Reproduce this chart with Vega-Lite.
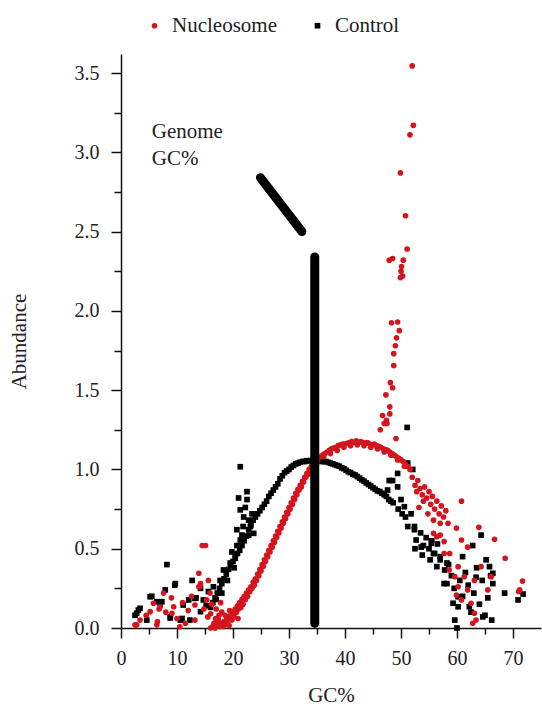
{
  "$schema": "https://vega.github.io/schema/vega-lite/v6.json",
  "width": 420,
  "height": 574,
  "autosize": {"type": "none"},
  "padding": {"left": 121, "top": 54, "right": 1, "bottom": 81},
  "config": {
    "view": {"stroke": null},
    "axis": {"grid": false, "domainColor": "#111", "domainWidth": 1.5, "tickColor": "#111", "tickWidth": 1.5, "labelFont": "Liberation Serif", "labelFontSize": 20, "labelColor": "#222", "titleFont": "Liberation Serif", "titleFontSize": 21, "titleFontWeight": "normal", "titleColor": "#222"}
  },
  "encoding": {
    "x": {"field": "x", "type": "quantitative", "scale": {"domain": [0, 75], "nice": false, "zero": false},
      "axis": {"title": "GC%", "values": [0,5,10,15,20,25,30,35,40,45,50,55,60,65,70], "format": "d", "labelExpr": "datum.value % 10 === 0 ? datum.label : ''", "tickSize": {"condition": {"test": "datum.value % 10 === 0", "value": 10}, "value": 6}, "labelPadding": 10, "titlePadding": 16, "labelFlush": false}},
    "y": {"field": "y", "type": "quantitative", "scale": {"domain": [0, 3.62], "nice": false},
      "axis": {"title": "Abundance", "values": [0,0.25,0.5,0.75,1,1.25,1.5,1.75,2,2.25,2.5,2.75,3,3.25,3.5], "format": ".1f", "labelExpr": "datum.value % 0.5 === 0 ? datum.label : ''", "tickSize": {"condition": {"test": "datum.value % 0.5 === 0", "value": 10}, "value": 7}, "labelPadding": 12, "titlePadding": 45, "labelFlush": false}}
  },
  "layer": [
    {
      "data": {"values": [
        {"s":"Control","x":16.0,"y":0.13},{"s":"Control","x":16.4,"y":0.16},{"s":"Control","x":16.8,"y":0.19},{"s":"Control","x":17.2,"y":0.22},{"s":"Control","x":17.6,"y":0.25},{"s":"Control","x":18.0,"y":0.28},{"s":"Control","x":18.4,"y":0.31},{"s":"Control","x":18.8,"y":0.34},{"s":"Control","x":19.2,"y":0.37},{"s":"Control","x":19.6,"y":0.40},{"s":"Control","x":20.0,"y":0.42},{"s":"Control","x":20.4,"y":0.44},{"s":"Control","x":20.8,"y":0.47},{"s":"Control","x":21.2,"y":0.49},{"s":"Control","x":21.6,"y":0.52},{"s":"Control","x":22.0,"y":0.55},{"s":"Control","x":22.4,"y":0.58},{"s":"Control","x":22.8,"y":0.62},{"s":"Control","x":23.2,"y":0.65},{"s":"Control","x":23.6,"y":0.68},{"s":"Control","x":24.0,"y":0.70},{"s":"Control","x":24.4,"y":0.72},{"s":"Control","x":24.8,"y":0.74},{"s":"Control","x":25.2,"y":0.76},{"s":"Control","x":25.6,"y":0.78},{"s":"Control","x":26.0,"y":0.80},{"s":"Control","x":26.4,"y":0.83},{"s":"Control","x":26.8,"y":0.85},{"s":"Control","x":27.2,"y":0.87},{"s":"Control","x":27.6,"y":0.89},{"s":"Control","x":28.0,"y":0.91},{"s":"Control","x":28.4,"y":0.94},{"s":"Control","x":28.8,"y":0.96},{"s":"Control","x":29.2,"y":0.98},{"s":"Control","x":29.6,"y":0.99},{"s":"Control","x":30.0,"y":1.00},{"s":"Control","x":30.4,"y":1.015},{"s":"Control","x":30.8,"y":1.025},{"s":"Control","x":31.2,"y":1.035},{"s":"Control","x":31.6,"y":1.04},{"s":"Control","x":32.0,"y":1.045},{"s":"Control","x":32.4,"y":1.05},{"s":"Control","x":32.8,"y":1.05},{"s":"Control","x":33.2,"y":1.055},{"s":"Control","x":33.6,"y":1.055},{"s":"Control","x":34.0,"y":1.055},{"s":"Control","x":35.0,"y":1.055},{"s":"Control","x":35.4,"y":1.055},{"s":"Control","x":35.8,"y":1.05},{"s":"Control","x":36.2,"y":1.05},{"s":"Control","x":36.6,"y":1.05},{"s":"Control","x":37.0,"y":1.045},{"s":"Control","x":37.4,"y":1.04},{"s":"Control","x":37.8,"y":1.035},{"s":"Control","x":38.2,"y":1.03},{"s":"Control","x":38.6,"y":1.025},{"s":"Control","x":39.0,"y":1.02},{"s":"Control","x":39.4,"y":1.01},{"s":"Control","x":39.8,"y":1.005},{"s":"Control","x":40.2,"y":0.995},{"s":"Control","x":40.6,"y":0.985},{"s":"Control","x":41.0,"y":0.98},{"s":"Control","x":41.4,"y":0.97},{"s":"Control","x":41.8,"y":0.965},{"s":"Control","x":42.2,"y":0.955},{"s":"Control","x":42.6,"y":0.945},{"s":"Control","x":43.0,"y":0.935},{"s":"Control","x":43.4,"y":0.925},{"s":"Control","x":43.8,"y":0.915},{"s":"Control","x":44.2,"y":0.905},{"s":"Control","x":44.6,"y":0.895},{"s":"Control","x":45.0,"y":0.885},{"s":"Control","x":45.4,"y":0.875},{"s":"Control","x":45.8,"y":0.865},{"s":"Control","x":46.2,"y":0.86},{"s":"Control","x":46.6,"y":0.85},{"s":"Control","x":47.0,"y":0.84},{"s":"Control","x":47.4,"y":0.83},{"s":"Control","x":47.8,"y":0.81},{"s":"Control","x":48.2,"y":0.80},{"s":"Control","x":48.6,"y":0.79},
        {"s":"Control","x":21.3,"y":1.017},{"s":"Control","x":22.5,"y":0.86},{"s":"Control","x":21.0,"y":0.82},{"s":"Control","x":22.2,"y":0.76},{"s":"Control","x":21.9,"y":0.70},{"s":"Control","x":20.7,"y":0.62},{"s":"Control","x":22.8,"y":0.585},{"s":"Control","x":21.3,"y":0.555},{"s":"Control","x":23.7,"y":0.597},{"s":"Control","x":20.4,"y":0.46},{"s":"Control","x":19.5,"y":0.41},{"s":"Control","x":8.2,"y":0.40},{"s":"Control","x":12.7,"y":0.30},{"s":"Control","x":9.7,"y":0.28},{"s":"Control","x":14.2,"y":0.25},{"s":"Control","x":5.5,"y":0.20},{"s":"Control","x":7.3,"y":0.166},{"s":"Control","x":3.1,"y":0.113},{"s":"Control","x":2.5,"y":0.08},{"s":"Control","x":10.6,"y":0.05},{"s":"Control","x":12.1,"y":0.177},{"s":"Control","x":13.4,"y":0.19},{"s":"Control","x":14.7,"y":0.177},{"s":"Control","x":6.4,"y":0.166},{"s":"Control","x":10.9,"y":0.06},{"s":"Control","x":8.8,"y":0.063},{"s":"Control","x":14.2,"y":0.103},{"s":"Control","x":18.3,"y":0.366},{"s":"Control","x":17.7,"y":0.30},{"s":"Control","x":16.5,"y":0.26},{"s":"Control","x":19.8,"y":0.48},{"s":"Control","x":20.7,"y":0.52},{"s":"Control","x":21.6,"y":0.586},{"s":"Control","x":23.1,"y":0.64},{"s":"Control","x":22.8,"y":0.68},{"s":"Control","x":21.3,"y":0.745},{"s":"Control","x":22.5,"y":0.81},{"s":"Control","x":2.8,"y":0.093},{"s":"Control","x":3.4,"y":0.124},{"s":"Control","x":5.2,"y":0.197},{"s":"Control","x":7.0,"y":0.156},{"s":"Control","x":7.9,"y":0.24},{"s":"Control","x":9.6,"y":0.27},{"s":"Control","x":11.1,"y":0.145},{"s":"Control","x":13.2,"y":0.187},{"s":"Control","x":15.6,"y":0.23},{"s":"Control","x":4.6,"y":0.05},{"s":"Control","x":8.8,"y":0.07},{"s":"Control","x":12.3,"y":0.05},{"s":"Control","x":15.2,"y":0.14},{"s":"Control","x":17.0,"y":0.18},{"s":"Control","x":18.0,"y":0.22},{"s":"Control","x":19.0,"y":0.30},{"s":"Control","x":20.2,"y":0.38},{"s":"Control","x":23.4,"y":0.72},{"s":"Control","x":21.8,"y":0.64},
        {"s":"Control","x":51.1,"y":1.265},{"s":"Control","x":51.2,"y":1.04},{"s":"Control","x":52.1,"y":1.0},{"s":"Control","x":49.4,"y":0.975},{"s":"Control","x":47.9,"y":0.93},{"s":"Control","x":49.4,"y":0.89},{"s":"Control","x":48.5,"y":0.93},{"s":"Control","x":47.6,"y":0.87},{"s":"Control","x":50.0,"y":0.81},{"s":"Control","x":50.6,"y":0.765},{"s":"Control","x":51.8,"y":0.72},{"s":"Control","x":49.5,"y":0.75},{"s":"Control","x":50.2,"y":0.72},{"s":"Control","x":50.8,"y":0.70},{"s":"Control","x":51.2,"y":0.64},{"s":"Control","x":52.4,"y":0.64},{"s":"Control","x":52.4,"y":0.62},{"s":"Control","x":52.7,"y":0.555},{"s":"Control","x":53.5,"y":0.60},{"s":"Control","x":53.6,"y":0.51},{"s":"Control","x":54.0,"y":0.52},{"s":"Control","x":54.5,"y":0.57},{"s":"Control","x":55.0,"y":0.50},{"s":"Control","x":55.4,"y":0.534},{"s":"Control","x":55.5,"y":0.55},{"s":"Control","x":55.8,"y":0.47},{"s":"Control","x":56.0,"y":0.47},{"s":"Control","x":56.5,"y":0.53},{"s":"Control","x":57.0,"y":0.45},{"s":"Control","x":57.0,"y":0.43},{"s":"Control","x":52.5,"y":0.50},{"s":"Control","x":53.8,"y":0.46},{"s":"Control","x":55.2,"y":0.43},{"s":"Control","x":56.4,"y":0.387},{"s":"Control","x":58.2,"y":0.41},{"s":"Control","x":57.8,"y":0.366},{"s":"Control","x":58.5,"y":0.40},{"s":"Control","x":59.0,"y":0.33},{"s":"Control","x":57.7,"y":0.28},{"s":"Control","x":58.2,"y":0.28},{"s":"Control","x":59.5,"y":0.25},{"s":"Control","x":60.2,"y":0.197},{"s":"Control","x":59.3,"y":0.156},{"s":"Control","x":60.2,"y":0.134},{"s":"Control","x":60.5,"y":0.30},{"s":"Control","x":61.0,"y":0.20},{"s":"Control","x":61.0,"y":0.45},{"s":"Control","x":61.5,"y":0.35},{"s":"Control","x":62.0,"y":0.27},{"s":"Control","x":62.2,"y":0.134},{"s":"Control","x":62.5,"y":0.10},{"s":"Control","x":62.8,"y":0.52},{"s":"Control","x":63.0,"y":0.22},{"s":"Control","x":63.4,"y":0.32},{"s":"Control","x":63.5,"y":0.38},{"s":"Control","x":64.0,"y":0.15},{"s":"Control","x":64.3,"y":0.586},{"s":"Control","x":64.5,"y":0.30},{"s":"Control","x":64.6,"y":0.07},{"s":"Control","x":65.0,"y":0.08},{"s":"Control","x":65.2,"y":0.43},{"s":"Control","x":65.5,"y":0.19},{"s":"Control","x":65.8,"y":0.387},{"s":"Control","x":66.0,"y":0.33},{"s":"Control","x":66.2,"y":0.05},{"s":"Control","x":66.4,"y":0.345},{"s":"Control","x":66.4,"y":0.28},{"s":"Control","x":60.0,"y":0.0},{"s":"Control","x":59.6,"y":0.05},{"s":"Control","x":68.5,"y":0.22},{"s":"Control","x":70.9,"y":0.177},{"s":"Control","x":71.8,"y":0.214},
        {"s":"Nucleosome","x":16.0,"y":0.00},{"s":"Nucleosome","x":16.4,"y":0.01},{"s":"Nucleosome","x":16.8,"y":0.00},{"s":"Nucleosome","x":17.2,"y":0.02},{"s":"Nucleosome","x":17.6,"y":0.01},{"s":"Nucleosome","x":18.0,"y":0.03},{"s":"Nucleosome","x":18.4,"y":0.04},{"s":"Nucleosome","x":18.8,"y":0.05},{"s":"Nucleosome","x":19.2,"y":0.07},{"s":"Nucleosome","x":19.6,"y":0.08},{"s":"Nucleosome","x":20.0,"y":0.10},{"s":"Nucleosome","x":20.4,"y":0.12},{"s":"Nucleosome","x":20.8,"y":0.14},{"s":"Nucleosome","x":21.2,"y":0.16},{"s":"Nucleosome","x":21.6,"y":0.18},{"s":"Nucleosome","x":22.0,"y":0.20},{"s":"Nucleosome","x":22.4,"y":0.22},{"s":"Nucleosome","x":22.8,"y":0.24},{"s":"Nucleosome","x":23.2,"y":0.26},{"s":"Nucleosome","x":23.6,"y":0.29},{"s":"Nucleosome","x":24.0,"y":0.31},{"s":"Nucleosome","x":24.4,"y":0.34},{"s":"Nucleosome","x":24.8,"y":0.37},{"s":"Nucleosome","x":25.2,"y":0.40},{"s":"Nucleosome","x":25.6,"y":0.43},{"s":"Nucleosome","x":26.0,"y":0.46},{"s":"Nucleosome","x":26.4,"y":0.49},{"s":"Nucleosome","x":26.8,"y":0.52},{"s":"Nucleosome","x":27.2,"y":0.55},{"s":"Nucleosome","x":27.6,"y":0.58},{"s":"Nucleosome","x":28.0,"y":0.61},{"s":"Nucleosome","x":28.4,"y":0.64},{"s":"Nucleosome","x":28.8,"y":0.67},{"s":"Nucleosome","x":29.2,"y":0.70},{"s":"Nucleosome","x":29.6,"y":0.73},{"s":"Nucleosome","x":30.0,"y":0.76},{"s":"Nucleosome","x":30.4,"y":0.79},{"s":"Nucleosome","x":30.8,"y":0.82},{"s":"Nucleosome","x":31.2,"y":0.85},{"s":"Nucleosome","x":31.6,"y":0.875},{"s":"Nucleosome","x":32.0,"y":0.90},{"s":"Nucleosome","x":32.4,"y":0.925},{"s":"Nucleosome","x":32.8,"y":0.95},{"s":"Nucleosome","x":33.2,"y":0.975},{"s":"Nucleosome","x":33.6,"y":1.00},{"s":"Nucleosome","x":34.0,"y":1.02},{"s":"Nucleosome","x":34.4,"y":1.04},{"s":"Nucleosome","x":34.8,"y":1.055},{"s":"Nucleosome","x":35.2,"y":1.07},{"s":"Nucleosome","x":35.6,"y":1.08},{"s":"Nucleosome","x":36.0,"y":1.09},{"s":"Nucleosome","x":36.4,"y":1.10},{"s":"Nucleosome","x":36.8,"y":1.11},{"s":"Nucleosome","x":37.2,"y":1.12},{"s":"Nucleosome","x":37.6,"y":1.13},{"s":"Nucleosome","x":38.0,"y":1.135},{"s":"Nucleosome","x":38.4,"y":1.14},{"s":"Nucleosome","x":38.8,"y":1.15},{"s":"Nucleosome","x":39.2,"y":1.155},{"s":"Nucleosome","x":39.6,"y":1.16},{"s":"Nucleosome","x":40.0,"y":1.16},{"s":"Nucleosome","x":40.4,"y":1.165},{"s":"Nucleosome","x":40.8,"y":1.17},{"s":"Nucleosome","x":41.2,"y":1.175},{"s":"Nucleosome","x":41.6,"y":1.17},{"s":"Nucleosome","x":42.0,"y":1.18},{"s":"Nucleosome","x":42.4,"y":1.17},{"s":"Nucleosome","x":42.8,"y":1.175},{"s":"Nucleosome","x":43.2,"y":1.17},{"s":"Nucleosome","x":43.6,"y":1.165},{"s":"Nucleosome","x":44.0,"y":1.17},{"s":"Nucleosome","x":44.4,"y":1.16},{"s":"Nucleosome","x":44.8,"y":1.155},{"s":"Nucleosome","x":45.2,"y":1.16},{"s":"Nucleosome","x":45.6,"y":1.15},{"s":"Nucleosome","x":46.0,"y":1.145},{"s":"Nucleosome","x":46.4,"y":1.14},{"s":"Nucleosome","x":46.8,"y":1.13},{"s":"Nucleosome","x":47.2,"y":1.125},{"s":"Nucleosome","x":47.6,"y":1.12},{"s":"Nucleosome","x":48.0,"y":1.11},{"s":"Nucleosome","x":48.4,"y":1.10},{"s":"Nucleosome","x":48.8,"y":1.09},{"s":"Nucleosome","x":49.2,"y":1.08},{"s":"Nucleosome","x":49.6,"y":1.07},{"s":"Nucleosome","x":50.0,"y":1.06},{"s":"Nucleosome","x":50.4,"y":1.05},{"s":"Nucleosome","x":50.8,"y":1.03},{"s":"Nucleosome","x":51.2,"y":1.02},{"s":"Nucleosome","x":51.6,"y":1.00},
        {"s":"Nucleosome","x":16.6,"y":0.03},{"s":"Nucleosome","x":17.4,"y":0.05},{"s":"Nucleosome","x":18.2,"y":0.01},{"s":"Nucleosome","x":18.6,"y":0.08},{"s":"Nucleosome","x":19.0,"y":0.03},{"s":"Nucleosome","x":19.4,"y":0.11},{"s":"Nucleosome","x":19.8,"y":0.05},{"s":"Nucleosome","x":20.2,"y":0.07},{"s":"Nucleosome","x":20.6,"y":0.10},{"s":"Nucleosome","x":21.0,"y":0.12},{"s":"Nucleosome","x":21.4,"y":0.13},{"s":"Nucleosome","x":21.8,"y":0.15},{"s":"Nucleosome","x":22.2,"y":0.18},{"s":"Nucleosome","x":22.6,"y":0.20},{"s":"Nucleosome","x":23.0,"y":0.23},{"s":"Nucleosome","x":23.4,"y":0.25},{"s":"Nucleosome","x":23.8,"y":0.27},{"s":"Nucleosome","x":24.2,"y":0.30},{"s":"Nucleosome","x":24.6,"y":0.33},{"s":"Nucleosome","x":25.0,"y":0.36},{"s":"Nucleosome","x":25.4,"y":0.39},{"s":"Nucleosome","x":25.8,"y":0.42},{"s":"Nucleosome","x":26.2,"y":0.45},{"s":"Nucleosome","x":26.6,"y":0.48},{"s":"Nucleosome","x":27.0,"y":0.51},{"s":"Nucleosome","x":27.4,"y":0.54},{"s":"Nucleosome","x":27.8,"y":0.57},{"s":"Nucleosome","x":28.2,"y":0.60},{"s":"Nucleosome","x":28.6,"y":0.63},{"s":"Nucleosome","x":29.0,"y":0.66},{"s":"Nucleosome","x":29.4,"y":0.69},{"s":"Nucleosome","x":29.8,"y":0.72},{"s":"Nucleosome","x":30.2,"y":0.75},{"s":"Nucleosome","x":30.6,"y":0.78},{"s":"Nucleosome","x":31.0,"y":0.81},{"s":"Nucleosome","x":31.4,"y":0.84},{"s":"Nucleosome","x":31.8,"y":0.87},{"s":"Nucleosome","x":32.2,"y":0.89},{"s":"Nucleosome","x":32.6,"y":0.92},{"s":"Nucleosome","x":33.0,"y":0.95},{"s":"Nucleosome","x":33.4,"y":0.97},{"s":"Nucleosome","x":33.8,"y":1.00},{"s":"Nucleosome","x":35.0,"y":1.05},{"s":"Nucleosome","x":36.2,"y":1.08},{"s":"Nucleosome","x":37.4,"y":1.10},{"s":"Nucleosome","x":38.6,"y":1.12},{"s":"Nucleosome","x":39.8,"y":1.14},{"s":"Nucleosome","x":41.0,"y":1.15},{"s":"Nucleosome","x":42.2,"y":1.155},{"s":"Nucleosome","x":43.4,"y":1.15},{"s":"Nucleosome","x":44.6,"y":1.14},{"s":"Nucleosome","x":45.8,"y":1.13},{"s":"Nucleosome","x":47.0,"y":1.11},{"s":"Nucleosome","x":48.2,"y":1.09},{"s":"Nucleosome","x":49.4,"y":1.06},{"s":"Nucleosome","x":50.6,"y":1.02},
        {"s":"Nucleosome","x":52.0,"y":3.545},{"s":"Nucleosome","x":52.2,"y":3.17},{"s":"Nucleosome","x":51.6,"y":3.11},{"s":"Nucleosome","x":49.9,"y":2.87},{"s":"Nucleosome","x":50.8,"y":2.60},{"s":"Nucleosome","x":51.1,"y":2.39},{"s":"Nucleosome","x":47.9,"y":2.32},{"s":"Nucleosome","x":48.5,"y":2.33},{"s":"Nucleosome","x":50.4,"y":2.32},{"s":"Nucleosome","x":50.1,"y":2.28},{"s":"Nucleosome","x":50.0,"y":2.25},{"s":"Nucleosome","x":50.3,"y":2.22},{"s":"Nucleosome","x":49.9,"y":2.21},{"s":"Nucleosome","x":48.3,"y":1.925},{"s":"Nucleosome","x":49.4,"y":1.93},{"s":"Nucleosome","x":49.7,"y":1.875},{"s":"Nucleosome","x":49.2,"y":1.83},{"s":"Nucleosome","x":49.0,"y":1.78},{"s":"Nucleosome","x":48.7,"y":1.73},{"s":"Nucleosome","x":48.7,"y":1.655},{"s":"Nucleosome","x":48.1,"y":1.547},{"s":"Nucleosome","x":48.5,"y":1.515},{"s":"Nucleosome","x":47.3,"y":1.47},{"s":"Nucleosome","x":48.0,"y":1.395},{"s":"Nucleosome","x":46.7,"y":1.34},{"s":"Nucleosome","x":48.0,"y":1.35},{"s":"Nucleosome","x":47.4,"y":1.31},{"s":"Nucleosome","x":47.0,"y":1.29},{"s":"Nucleosome","x":46.3,"y":1.25},{"s":"Nucleosome","x":49.1,"y":1.195},{"s":"Nucleosome","x":47.5,"y":1.29},
        {"s":"Nucleosome","x":52.0,"y":0.95},{"s":"Nucleosome","x":52.5,"y":0.90},{"s":"Nucleosome","x":53.0,"y":0.93},{"s":"Nucleosome","x":52.8,"y":0.86},{"s":"Nucleosome","x":53.4,"y":0.88},{"s":"Nucleosome","x":53.8,"y":0.84},{"s":"Nucleosome","x":54.2,"y":0.89},{"s":"Nucleosome","x":54.0,"y":0.80},{"s":"Nucleosome","x":54.6,"y":0.82},{"s":"Nucleosome","x":55.0,"y":0.86},{"s":"Nucleosome","x":55.3,"y":0.78},{"s":"Nucleosome","x":55.6,"y":0.83},{"s":"Nucleosome","x":56.0,"y":0.75},{"s":"Nucleosome","x":56.4,"y":0.80},{"s":"Nucleosome","x":56.8,"y":0.72},{"s":"Nucleosome","x":57.2,"y":0.77},{"s":"Nucleosome","x":57.6,"y":0.70},{"s":"Nucleosome","x":58.0,"y":0.74},{"s":"Nucleosome","x":53.2,"y":0.76},{"s":"Nucleosome","x":54.8,"y":0.72},{"s":"Nucleosome","x":55.8,"y":0.68},{"s":"Nucleosome","x":57.0,"y":0.66},{"s":"Nucleosome","x":58.4,"y":0.66},{"s":"Nucleosome","x":60.8,"y":0.80},{"s":"Nucleosome","x":59.9,"y":0.63},{"s":"Nucleosome","x":63.9,"y":0.635},{"s":"Nucleosome","x":66.7,"y":0.56},{"s":"Nucleosome","x":68.6,"y":0.44},{"s":"Nucleosome","x":71.7,"y":0.296},{"s":"Nucleosome","x":71.2,"y":0.24},{"s":"Nucleosome","x":71.0,"y":0.23},{"s":"Nucleosome","x":56.4,"y":0.576},{"s":"Nucleosome","x":57.7,"y":0.545},{"s":"Nucleosome","x":60.8,"y":0.555},{"s":"Nucleosome","x":61.9,"y":0.51},{"s":"Nucleosome","x":58.7,"y":0.47},{"s":"Nucleosome","x":60.2,"y":0.387},{"s":"Nucleosome","x":59.6,"y":0.324},{"s":"Nucleosome","x":61.3,"y":0.324},{"s":"Nucleosome","x":63.1,"y":0.30},{"s":"Nucleosome","x":64.3,"y":0.387},{"s":"Nucleosome","x":66.1,"y":0.324},{"s":"Nucleosome","x":65.5,"y":0.24},{"s":"Nucleosome","x":61.9,"y":0.24},{"s":"Nucleosome","x":60.2,"y":0.26},{"s":"Nucleosome","x":62.5,"y":0.156},{"s":"Nucleosome","x":60.8,"y":0.177},{"s":"Nucleosome","x":63.1,"y":0.093},{"s":"Nucleosome","x":63.4,"y":0.05},{"s":"Nucleosome","x":62.8,"y":0.03},{"s":"Nucleosome","x":59.9,"y":0.208},{"s":"Nucleosome","x":58.6,"y":0.366},{"s":"Nucleosome","x":57.7,"y":0.47},{"s":"Nucleosome","x":55.8,"y":0.597},{"s":"Nucleosome","x":57.0,"y":0.586},
        {"s":"Nucleosome","x":14.5,"y":0.52},{"s":"Nucleosome","x":15.1,"y":0.52},{"s":"Nucleosome","x":13.9,"y":0.345},{"s":"Nucleosome","x":13.9,"y":0.26},{"s":"Nucleosome","x":15.9,"y":0.22},{"s":"Nucleosome","x":7.6,"y":0.22},{"s":"Nucleosome","x":5.8,"y":0.156},{"s":"Nucleosome","x":9.4,"y":0.134},{"s":"Nucleosome","x":3.4,"y":0.05},{"s":"Nucleosome","x":2.5,"y":0.02},{"s":"Nucleosome","x":4.5,"y":0.08},{"s":"Nucleosome","x":6.5,"y":0.04},{"s":"Nucleosome","x":8.0,"y":0.10},{"s":"Nucleosome","x":10.0,"y":0.06},{"s":"Nucleosome","x":11.0,"y":0.16},{"s":"Nucleosome","x":12.0,"y":0.11},{"s":"Nucleosome","x":12.6,"y":0.20},{"s":"Nucleosome","x":13.2,"y":0.05},{"s":"Nucleosome","x":14.8,"y":0.12},{"s":"Nucleosome","x":15.5,"y":0.07},{"s":"Nucleosome","x":16.2,"y":0.15},{"s":"Nucleosome","x":11.5,"y":0.03},{"s":"Nucleosome","x":9.0,"y":0.19},{"s":"Nucleosome","x":6.8,"y":0.12},{"s":"Nucleosome","x":14.2,"y":0.28},{"s":"Nucleosome","x":15.6,"y":0.30},{"s":"Nucleosome","x":16.0,"y":0.09},{"s":"Nucleosome","x":17.0,"y":0.12},{"s":"Nucleosome","x":17.5,"y":0.08},{"s":"Nucleosome","x":18.0,"y":0.10},{"s":"Nucleosome","x":18.5,"y":0.02},{"s":"Nucleosome","x":2.8,"y":0.02},{"s":"Nucleosome","x":5.2,"y":0.103},{"s":"Nucleosome","x":7.0,"y":0.134},{"s":"Nucleosome","x":9.1,"y":0.093},{"s":"Nucleosome","x":10.5,"y":0.008},{"s":"Nucleosome","x":13.2,"y":0.145},{"s":"Nucleosome","x":14.1,"y":0.26},{"s":"Nucleosome","x":15.3,"y":0.177},{"s":"Nucleosome","x":6.4,"y":0.02},{"s":"Nucleosome","x":16.9,"y":0.06},{"s":"Nucleosome","x":19.3,"y":0.015},{"s":"Nucleosome","x":20.9,"y":0.06},{"s":"Nucleosome","x":17.8,"y":0.16}
      ]},
      "mark": {"type": "point", "filled": true, "opacity": 1, "strokeWidth": 0},
      "encoding": {
        "color": {"field": "s", "type": "nominal", "scale": {"domain": ["Nucleosome", "Control"], "range": ["#d4151d", "#000000"]},
          "legend": {"title": null, "orient": "none", "direction": "horizontal", "legendX": 23, "legendY": -39, "padding": 0, "labelFont": "Liberation Serif", "labelFontSize": 21, "labelColor": "#222", "labelOffset": 7, "columnPadding": 30, "symbolStrokeWidth": 0}},
        "shape": {"field": "s", "type": "nominal", "scale": {"domain": ["Nucleosome", "Control"], "range": ["circle", "square"]}},
        "size": {"field": "s", "type": "nominal", "scale": {"domain": ["Nucleosome", "Control"], "range": [32, 32]}}
      }
    },
    {
      "data": {"values": [
        {"x": 34.6, "y": 0.03, "x2": 34.6, "y2": 2.34},
        {"x": 24.9, "y": 2.84, "x2": 32.3, "y2": 2.50}
      ]},
      "mark": {"type": "rule", "color": "#000", "strokeWidth": 9, "strokeCap": "round"},
      "encoding": {"x2": {"field": "x2"}, "y2": {"field": "y2"}}
    },
    {
      "data": {"values": [{"x": 5.5, "y": 3.09, "t": "Genome\nGC%"}]},
      "mark": {"type": "text", "align": "left", "baseline": "alphabetic", "font": "Liberation Serif", "fontSize": 21, "color": "#222", "lineBreak": "\n", "lineHeight": 27},
      "encoding": {"text": {"field": "t"}}
    }
  ]
}
